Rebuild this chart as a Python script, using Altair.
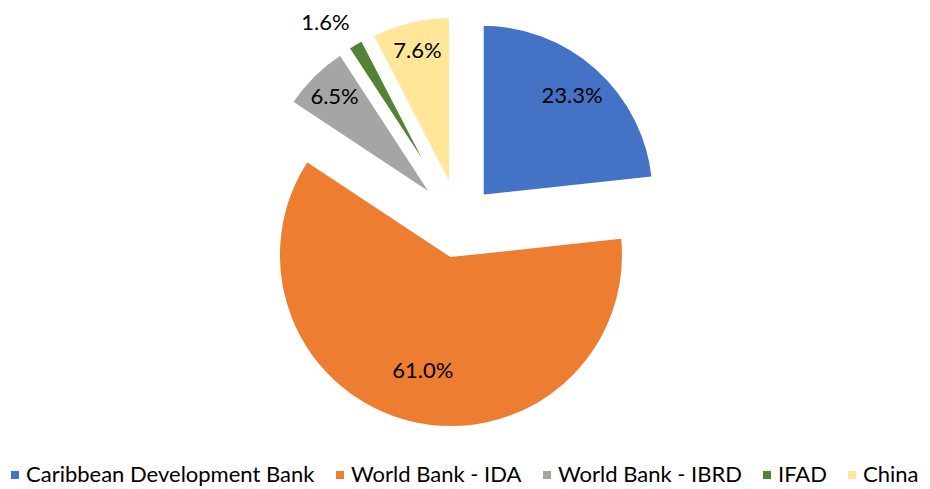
import altair as alt
import pandas as pd

categories = ["Caribbean Development Bank", "World Bank - IDA", "World Bank - IBRD", "IFAD", "China"]
shares = [23.3, 61.0, 6.5, 1.6, 7.6]
colors = ["#4472C4", "#ED7D31", "#A5A5A5", "#548235", "#FFE699"]

# style settings
EXPLODE = 34          # px each slice is pulled out from the centre
CX, CY, R = 451, 214, 173
FONT = "Lato"

df = pd.DataFrame({
    "category": categories,
    "share": shares,
    "order": list(range(len(categories))),
})

base = (
    alt.Chart(df)
    .transform_joinaggregate(total="sum(share)")
    .transform_window(cum="sum(share)", sort=[alt.SortField("order")], frame=[None, 0])
    .transform_calculate(
        start="2*PI*(datum.cum - datum.share)/datum.total",
        end="2*PI*datum.cum/datum.total",
        frac="datum.share/datum.total",
    )
    .transform_calculate(mid="(datum.start + datum.end)/2")
    .transform_calculate(
        cx=f"{CX} + {EXPLODE}*sin(datum.mid)",
        cy=f"{CY} - {EXPLODE}*cos(datum.mid)",
        txt="format(datum.frac, '.1%')",
    )
)

arcs = base.mark_arc(outerRadius=R, stroke="#ffffff", strokeWidth=4).encode(
    x=alt.X("cx:Q", scale=None, axis=None),
    y=alt.Y("cy:Q", scale=None, axis=None),
    theta=alt.Theta("start:Q", scale=None),
    theta2="end:Q",
    color=alt.Color(
        "category:N",
        scale=alt.Scale(domain=categories, range=colors),
        legend=alt.Legend(
            title=None,
            orient="none",
            legendX=-4,
            legendY=456,
            direction="horizontal",
            symbolType="square",
            symbolSize=64,
            symbolStrokeWidth=0,
            labelFont=FONT,
            labelFontSize=22,
            labelColor="#000000",
            labelOffset=0,
            labelLimit=0,
            columnPadding=14,
        ),
    ),
)

inside = (
    base.transform_filter("datum.frac >= 0.03")
    .transform_calculate(lr=f"{R}*(0.84 - 0.25*datum.frac)")
    .transform_calculate(
        lx="datum.cx + datum.lr*sin(datum.mid)",
        ly="datum.cy - datum.lr*cos(datum.mid)",
    )
    .mark_text(font=FONT, fontSize=22, color="#000000")
    .encode(
        x=alt.X("lx:Q", scale=None, axis=None),
        y=alt.Y("ly:Q", scale=None, axis=None),
        text="txt:N",
    )
)

outside = (
    base.transform_filter("datum.frac < 0.03")
    .transform_calculate(
        lx=f"datum.cx + ({R}+10)*sin(datum.mid)",
        ly=f"datum.cy - ({R}+10)*cos(datum.mid)",
    )
    .mark_text(font=FONT, fontSize=22, color="#000000", align="right", baseline="bottom")
    .encode(
        x=alt.X("lx:Q", scale=None, axis=None),
        y=alt.Y("ly:Q", scale=None, axis=None),
        text="txt:N",
    )
)

chart = (
    alt.layer(arcs, inside, outside)
    .properties(width=914, height=481, autosize=alt.AutoSizeParams(type="none"), padding=0)
    .configure_view(stroke=None)
)

chart.save("out.html", embed_options={"renderer": "svg", "actions": False})
